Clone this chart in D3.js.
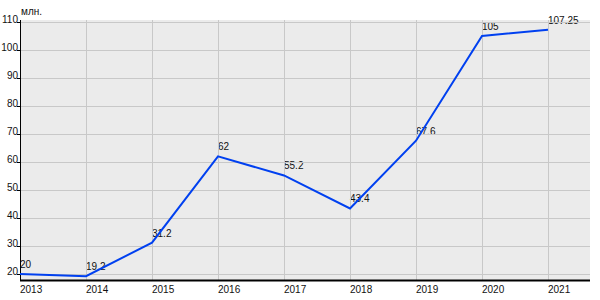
<!DOCTYPE html>
<html>
<head>
<meta charset="utf-8">
<script src="https://cdn.jsdelivr.net/npm/d3@7"></script>
<style>
  body { margin: 0; background: #fff; }
  text { font-family: Arial, "Liberation Sans", sans-serif; }
</style>
</head>
<body>
<div id="chart"></div>
<script>
const years = ['2013', '2014', '2015', '2016', '2017', '2018', '2019', '2020', '2021'];
const values = [20, 19.2, 31.2, 62, 55.2, 43.4, 67.6, 105, 107.25];
const valueLabels = ['20', '19.2', '31.2', '62', '55.2', '43.4', '67.6', '105', '107.25'];
const yTicks = [20, 30, 40, 50, 60, 70, 80, 90, 100, 110];
const unitLabel = 'млн.';

const width = 600, height = 300;
const plotLeft = 20, plotRight = 590, plotTop = 20, plotBottom = 280;

const svg = d3.select('#chart').append('svg')
  .attr('width', width)
  .attr('height', height);

// x: year index -> px, step 66
const x = d3.scaleLinear().domain([0, years.length - 1]).range([20, 548]);
const y = d3.scaleLinear().domain([20, 110]).range([274, 22]);

svg.append('rect')
  .attr('x', plotLeft).attr('y', plotTop)
  .attr('width', plotRight - plotLeft).attr('height', plotBottom - plotTop)
  .attr('fill', '#ebebeb');

// value labels (under grid, like the original)
svg.append('g')
  .selectAll('text')
  .data(values)
  .enter().append('text')
  .attr('x', (d, i) => x(i))
  .attr('y', d => Math.round(y(d)) - 6)
  .attr('font-size', 10)
  .attr('fill', '#111')
  .text((d, i) => valueLabels[i]);

const grid = svg.append('g').attr('stroke', '#c8c8c8').attr('stroke-width', 1);
grid.selectAll('line.h')
  .data(yTicks)
  .enter().append('line')
  .attr('class', 'h')
  .attr('x1', plotLeft).attr('x2', plotRight)
  .attr('y1', d => Math.round(y(d)) + 0.5)
  .attr('y2', d => Math.round(y(d)) + 0.5);
grid.selectAll('line.v')
  .data(years)
  .enter().append('line')
  .attr('class', 'v')
  .attr('x1', (d, i) => Math.round(x(i)) + 0.5)
  .attr('x2', (d, i) => Math.round(x(i)) + 0.5)
  .attr('y1', plotTop).attr('y2', plotBottom);

// y axis
svg.append('line')
  .attr('x1', plotLeft + 0.5).attr('x2', plotLeft + 0.5)
  .attr('y1', plotTop).attr('y2', plotBottom)
  .attr('stroke', '#000').attr('stroke-width', 1);
svg.append('g')
  .selectAll('line')
  .data(yTicks)
  .enter().append('line')
  .attr('x1', plotLeft - 3).attr('x2', plotLeft)
  .attr('y1', d => Math.round(y(d)) + 0.5)
  .attr('y2', d => Math.round(y(d)) + 0.5)
  .attr('stroke', '#000');
svg.append('g')
  .selectAll('text')
  .data(yTicks)
  .enter().append('text')
  .attr('x', plotLeft - 2)
  .attr('y', d => Math.round(y(d)) + 0.5)
  .attr('text-anchor', 'end')
  .attr('font-size', 10)
  .attr('fill', '#111')
  .text(d => d);

svg.append('text')
  .attr('x', 21).attr('y', 15)
  .attr('font-size', 10)
  .attr('fill', '#111')
  .text(unitLabel);

// x axis
svg.append('line')
  .attr('x1', plotLeft).attr('x2', plotRight)
  .attr('y1', plotBottom + 0.5).attr('y2', plotBottom + 0.5)
  .attr('stroke', '#000').attr('stroke-width', 2);
svg.append('g')
  .selectAll('text')
  .data(years)
  .enter().append('text')
  .attr('x', (d, i) => x(i))
  .attr('y', 293)
  .attr('font-size', 10)
  .attr('fill', '#111')
  .text(d => d);

// line
const line = d3.line()
  .x((d, i) => x(i))
  .y(d => y(d));
svg.append('path')
  .datum(values)
  .attr('d', line)
  .attr('fill', 'none')
  .attr('stroke', '#0040f0')
  .attr('stroke-width', 2);
</script>
</body>
</html>
